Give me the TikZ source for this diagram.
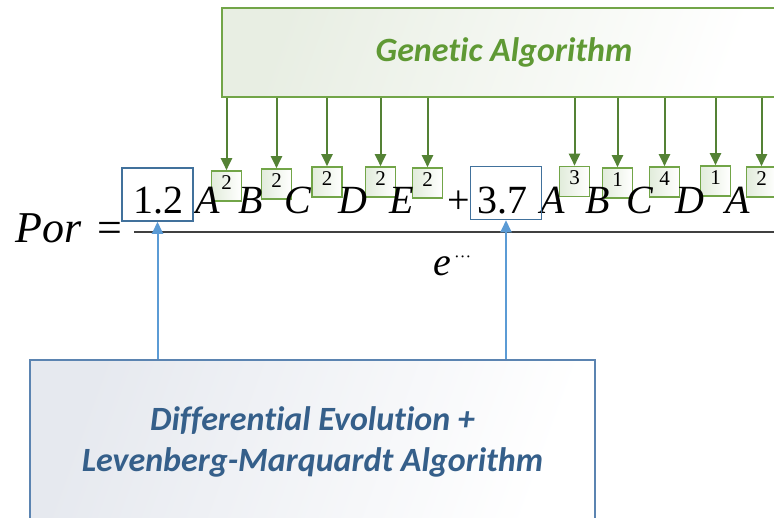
\documentclass[tikz,border=0pt]{standalone}
\usepackage{fontspec}
\setmainfont{Liberation Serif}
\newfontfamily\calib[Ligatures=NoCommon]{Carlito}
\usetikzlibrary{arrows.meta}
\definecolor{galine}{HTML}{72A548}
\definecolor{gadark}{HTML}{548235}
\definecolor{gatext}{HTML}{5F9934}
\definecolor{gafill}{HTML}{E8EEE3}
\definecolor{expfill}{HTML}{E2ECDB}
\definecolor{coefline}{HTML}{41719C}
\definecolor{deline}{HTML}{5B84B1}
\definecolor{dearr}{HTML}{5B9BD5}
\definecolor{detext}{HTML}{355F8A}
\definecolor{defill}{HTML}{E6E9EF}

\tikzset{
  sym/.style={anchor=base west, inner sep=0pt, font=\fontsize{40}{40}\selectfont},
  expbox/.style={draw=galine, line width=1.6pt, left color=expfill, right color=white,
    minimum size=30pt, inner sep=0pt, text height=18pt, text depth=12pt,
    font=\fontsize{21}{21}\selectfont},
  coefbox/.style={draw=coefline, line width=1.5pt, minimum width=71pt, minimum height=53pt},
  gaarrow/.style={draw=gadark, line width=2pt, -{Triangle[width=11pt,length=12pt]}},
  dearrow/.style={draw=dearr, line width=2pt, -{Triangle[width=11pt,length=12pt]}}
}

\begin{document}
\begin{tikzpicture}[x=1pt,y=-1pt]
\clip (0,0) rectangle (774,517);

\node[draw=galine, line width=1.8pt, left color=gafill, right color=white, shading angle=70,
  minimum width=564pt, minimum height=89pt, text=gatext,
  font=\calib\bfseries\itshape\fontsize{34}{34}\selectfont] (ga) at (504,52.5) {Genetic Algorithm};

\node[draw=deline, line width=1.6pt, left color=defill, right color=white, shading angle=70,
  minimum width=565pt, minimum height=163pt, text=detext, align=center,
  font=\calib\bfseries\itshape\fontsize{34}{41}\selectfont] (de) at (312.5,441.5)
  {Differential Evolution +\\Levenberg-Marquardt Algorithm};

% exponents
\foreach \x/\y/\d [count=\i] in {226.5/186/2, 276.5/184/2, 327/182/2, 380.5/182/2, 427.5/183/2,
    574.5/181.5/3, 617.5/183/1, 664.5/182/4, 715.5/181/1, 761.5/182/2}
  \node[expbox] (x\i) at (\x,\y) {\d};

\foreach \i in {1,...,10}
  \draw[gaarrow] (ga.south -| x\i.north) -- (x\i.north);

\node[anchor=base west, inner sep=0pt, font=\fontsize{44}{44}\selectfont] (por) at (15,242) {\textit{Por}\hspace{16pt}=};
\draw[draw=black!75, line width=2pt] (134,232) -- (774,232);

\foreach \x/\s [count=\i] in {133/1.2, 195/\textit{A}, 238/\textit{B}, 284/\textit{C}, 338/\textit{D},
    389/\textit{E}, 447/+, 477/3.7, 540/\textit{A}, 585/\textit{B}, 626/\textit{C}, 675/\textit{D}, 725/\textit{A}}
  \node[sym] (s\i) at (\x,213) {\s};

\node[sym] (den) at (433,275) {\textit{e}};
\node[anchor=base west, inner sep=0pt, font=\fontsize{17}{17}\selectfont] (dots) at (454,262) {···};

\node[coefbox] (c1) at (157.5,194.5) {};
\node[coefbox] (c2) at (506,193) {};

\draw[dearrow] (de.north -| c1.south) -- (c1.south);
\draw[dearrow] (de.north -| c2.south) -- (c2.south);
\end{tikzpicture}
\end{document}
